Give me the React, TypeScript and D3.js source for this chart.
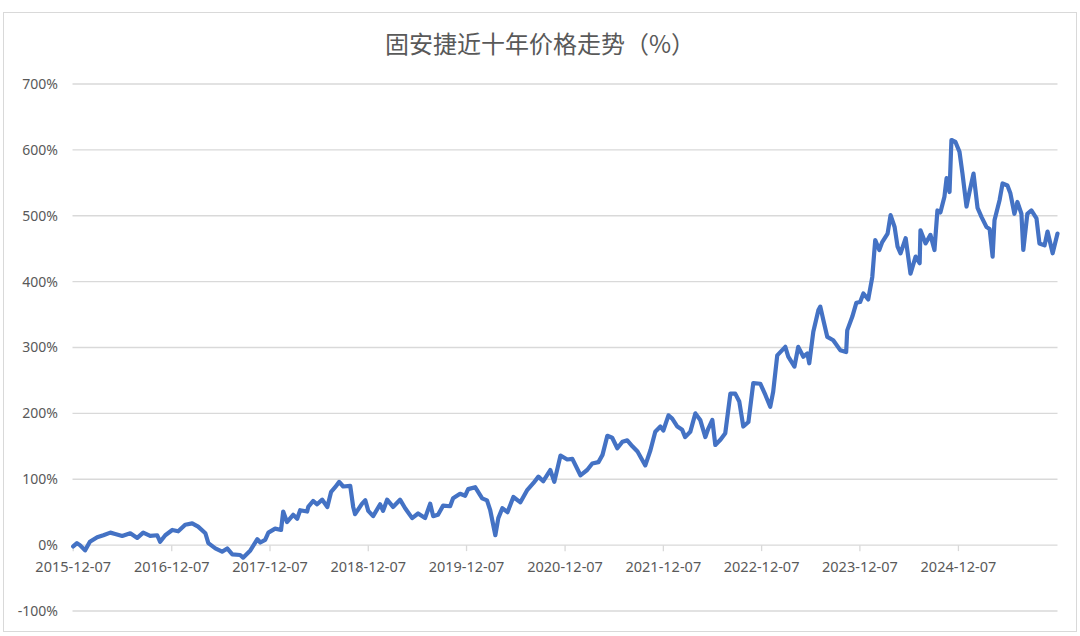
import React from "react";
import * as d3 from "d3";

const TITLE = "固安捷近十年价格走势（%）";

const yTicks = [-100, 0, 100, 200, 300, 400, 500, 600, 700];

const xTickLabels = [
  "2015-12-07", "2016-12-07", "2017-12-07", "2018-12-07", "2019-12-07",
  "2020-12-07", "2021-12-07", "2022-12-07", "2023-12-07", "2024-12-07",
];

const dates = [
  "2015-12-07", "2015-12-21", "2016-01-01", "2016-01-20", "2016-02-07", "2016-03-05", "2016-03-28", "2016-04-23", "2016-05-11", "2016-06-06", "2016-07-06", "2016-08-01", "2016-08-23", "2016-09-18", "2016-10-14", "2016-10-25", "2016-11-13",
  "2016-12-09", "2016-12-31", "2017-01-26", "2017-02-21", "2017-03-15", "2017-04-11", "2017-04-22", "2017-05-18", "2017-06-12", "2017-07-01", "2017-07-20", "2017-08-18", "2017-08-29", "2017-09-25", "2017-10-21", "2017-11-01", "2017-11-19", "2017-12-01",
  "2017-12-26", "2018-01-17", "2018-01-25", "2018-02-08", "2018-03-03", "2018-03-18", "2018-03-29", "2018-04-24", "2018-04-28", "2018-05-16", "2018-05-31", "2018-06-19", "2018-07-08", "2018-07-22", "2018-08-06", "2018-08-21", "2018-09-05", "2018-10-01", "2018-10-12", "2018-10-19", "2018-11-14", "2018-11-26", "2018-12-07",
  "2018-12-25", "2019-01-20", "2019-01-31", "2019-02-15", "2019-03-09", "2019-04-04", "2019-04-23", "2019-05-19", "2019-06-10", "2019-07-06", "2019-07-25", "2019-08-05", "2019-08-23", "2019-09-11", "2019-10-07", "2019-10-18", "2019-11-13", "2019-12-02",
  "2019-12-13", "2020-01-08", "2020-02-03", "2020-02-21", "2020-03-04", "2020-03-23", "2020-04-03", "2020-04-18", "2020-05-07", "2020-05-29", "2020-06-24", "2020-07-20", "2020-08-11", "2020-08-30", "2020-09-17", "2020-10-13", "2020-10-28", "2020-11-20",
  "2020-12-15", "2021-01-03", "2021-02-02", "2021-02-27", "2021-03-18", "2021-04-10", "2021-04-25", "2021-05-13", "2021-05-31", "2021-06-19", "2021-07-08", "2021-07-26", "2021-08-14", "2021-09-02", "2021-10-01", "2021-10-20", "2021-11-07", "2021-11-26",
  "2021-12-07", "2021-12-26", "2022-01-09", "2022-01-28", "2022-02-15", "2022-02-26", "2022-03-17", "2022-04-05", "2022-04-23", "2022-05-12", "2022-05-23", "2022-06-07", "2022-06-18", "2022-07-07", "2022-07-25", "2022-08-13", "2022-08-31", "2022-09-15", "2022-09-30", "2022-10-19", "2022-11-06", "2022-12-02",
  "2022-12-21", "2023-01-08", "2023-01-19", "2023-02-03", "2023-03-05", "2023-03-16", "2023-04-08", "2023-04-22", "2023-05-11", "2023-05-26", "2023-06-02", "2023-06-17", "2023-07-06", "2023-07-13", "2023-07-24", "2023-08-08", "2023-08-30", "2023-09-25", "2023-10-17", "2023-10-21", "2023-11-09", "2023-11-24",
  "2023-12-08", "2023-12-20", "2024-01-07", "2024-01-22", "2024-02-02", "2024-02-17", "2024-02-28", "2024-03-19", "2024-03-30", "2024-04-14", "2024-04-25", "2024-05-06", "2024-05-25", "2024-06-12", "2024-07-01", "2024-07-16", "2024-07-19", "2024-08-07", "2024-08-25", "2024-09-09", "2024-09-20", "2024-10-01", "2024-10-16", "2024-10-24", "2024-11-04", "2024-11-11", "2024-11-26",
  "2024-12-11", "2024-12-22", "2025-01-06", "2025-01-17", "2025-02-01", "2025-02-16", "2025-03-03", "2025-03-21", "2025-04-02", "2025-04-13", "2025-04-20", "2025-05-09", "2025-05-20", "2025-06-07", "2025-06-18", "2025-07-03", "2025-07-14", "2025-07-29", "2025-08-05", "2025-08-20", "2025-09-04", "2025-09-23", "2025-10-04", "2025-10-23", "2025-11-03", "2025-11-22", "2025-12-10",
];

const values = [
  -2, 3, 0, -8, 5, 12, 15, 19, 17, 14, 18, 11, 19, 14, 15, 5, 15,
  23, 21, 31, 33, 28, 18, 3, -5, -10, -5, -14, -15, -19, -8, 9, 4, 8, 19,
  25, 23, 51, 35, 46, 40, 53, 51, 58, 67, 62, 69, 58, 81, 88, 96, 89, 90, 58, 47, 63, 68, 52,
  44, 62, 52, 69, 58, 69, 56, 41, 48, 41, 63, 44, 46, 60, 59, 71, 78, 75,
  85, 88, 71, 68, 53, 15, 41, 56, 50, 73, 65, 84, 94, 104, 97, 114, 96, 136,
  130, 131, 106, 114, 124, 126, 137, 166, 163, 147, 157, 159, 150, 142, 121, 144, 172, 180,
  174, 197, 192, 180, 175, 164, 172, 200, 190, 164, 177, 190, 152, 160, 170, 230, 230, 218, 180, 187, 246, 245,
  228, 210, 233, 288, 301, 286, 271, 301, 286, 291, 276, 324, 357, 362, 342, 316, 311, 296, 293, 326, 347, 368,
  369, 382, 373, 407, 463, 448, 460, 473, 501, 483, 453, 443, 466, 412, 438, 428, 478, 458, 471, 448, 508, 505, 529, 557, 536, 615, 612,
  597, 564, 514, 536, 564, 512, 498, 483, 480, 438, 493, 524, 549, 546, 534, 503, 521, 503, 448, 503, 508, 496, 458, 455, 476, 443, 473,
];

const W = 1080;
const H = 636;
const parse = d3.timeParse("%Y-%m-%d");

export default function App() {
  const data = dates.map((d, i) => ({ date: parse(d) as Date, value: values[i] }));
  const x = d3
    .scaleTime()
    .domain([parse(dates[0]) as Date, parse(dates[dates.length - 1]) as Date])
    .range([73.2, 1057.5]);
  const y = d3.scaleLinear().domain([-100, 700]).range([611, 84]);
  const line = d3
    .line<{ date: Date; value: number }>()
    .x((d) => x(d.date))
    .y((d) => y(d.value));

  const labelFont = "'Noto Sans', 'DejaVu Sans', sans-serif";
  const grey = "#595959";

  return (
    <svg
      width={W}
      height={H}
      style={{ position: "absolute", left: 0, top: 0, background: "#fff" }}
    >
      <rect x={0} y={0} width={W} height={H} fill="#fff" />
      <rect x={3.5} y={12.5} width={1073} height={619} fill="#fff" stroke="#d9d9d9" strokeWidth={1} />
      <text
        x={540}
        y={53}
        textAnchor="middle"
        fontFamily="'Noto Sans CJK SC', sans-serif"
        fontSize={24}
        fill={grey}
      >
        {TITLE}
      </text>
      {yTicks.map((t) => (
        <g key={t}>
          <line x1={72.5} x2={1057.5} y1={y(t)} y2={y(t)} stroke="#d9d9d9" strokeWidth={1.3} />
          <text
            x={58}
            y={y(t)}
            dy="0.35em"
            textAnchor="end"
            fontFamily={labelFont}
            fontSize={14}
            fill={grey}
          >
            {t + "%"}
          </text>
        </g>
      ))}
      {xTickLabels.map((s) => {
        const xx = x(parse(s) as Date);
        return (
          <g key={s}>
            <line x1={xx} x2={xx} y1={y(0)} y2={y(0) + 6} stroke="#d9d9d9" strokeWidth={1.3} />
            <text
              x={xx}
              y={572}
              textAnchor="middle"
              fontFamily={labelFont}
              fontSize={14.5}
              fill={grey}
            >
              {s}
            </text>
          </g>
        );
      })}
      <path
        d={line(data) || ""}
        fill="none"
        stroke="#4472C4"
        strokeWidth={4.2}
        strokeLinejoin="round"
        strokeLinecap="round"
      />
    </svg>
  );
}
